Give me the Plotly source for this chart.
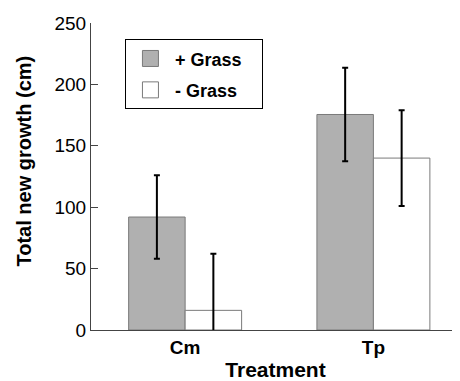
import plotly.graph_objects as go

categories = ["Cm", "Tp"]
series_names = ["+ Grass", "- Grass"]
plus_grass = [92, 175.5]
plus_grass_err = [34, 38]
minus_grass = [16, 140]
minus_grass_err = [46, 39]
y_ticks = [0, 50, 100, 150, 200, 250]

FONT = "Liberation Sans, Arial, sans-serif"
PAD = "\u00a0\u00a0\u00a0"
fills = ["#b0b0b0", "white"]
OUTLINE = "#7a7a7a"

fig = go.Figure()
for name, vals, errs, fill in [(series_names[0], plus_grass, plus_grass_err, fills[0]),
                               (series_names[1], minus_grass, minus_grass_err, fills[1])]:
    fig.add_trace(go.Bar(
        x=[0, 1], y=vals, name=name, showlegend=False,
        marker=dict(color=fill, line=dict(color=OUTLINE, width=1)),
        error_y=dict(type="data", array=errs, color="black", thickness=2, width=3),
    ))
# legend entries with larger square swatches
for i, (name, fill) in enumerate(zip(series_names, fills)):
    fig.add_trace(go.Scatter(
        x=[None], y=[None], mode="markers", name=name + PAD, legendgroup=str(i),
        marker=dict(symbol="square", size=16, color=fill, line=dict(color=OUTLINE, width=1)),
    ))

# page body has an 8px default margin, so the figure is 8px smaller and shifted
fig.update_layout(
    width=452, height=373,
    margin=dict(l=83, r=0, t=15, b=51, autoexpand=False),
    paper_bgcolor="white", plot_bgcolor="white",
    barmode="group", bargap=0.4, bargroupgap=0,
    font=dict(family=FONT, color="black"),
    showlegend=True,
    legend=dict(
        x=0.092, y=0.947, xanchor="left", yanchor="top",
        bordercolor="black", borderwidth=1, bgcolor="white",
        font=dict(size=18, weight="bold"),
        tracegroupgap=5, itemwidth=39, itemsizing="trace",
    ),
    xaxis=dict(
        range=[-0.5, 1.46], tickmode="array", tickvals=[0, 1], ticktext=categories,
        showline=True, linecolor="#444", linewidth=1, ticks="", showgrid=False,
        zeroline=False, automargin=False,
        tickfont=dict(size=19, weight="bold"),
        title=dict(text="Treatment", font=dict(size=21, weight="bold"), standoff=6),
    ),
    yaxis=dict(
        range=[0, 250], tickmode="array", tickvals=y_ticks,
        showline=True, linecolor="#444", linewidth=1,
        ticks="inside", ticklen=7, tickcolor="#444",
        showgrid=False, zeroline=False, automargin=False,
        tickfont=dict(size=19),
    ),
    annotations=[dict(
        text="<b>Total new growth (cm)</b>", textangle=-90,
        xref="paper", yref="paper", x=-0.1816, y=0.552,
        xanchor="center", yanchor="middle", showarrow=False,
        font=dict(size=20),
    )],
)

fig.write_html("out.html")
